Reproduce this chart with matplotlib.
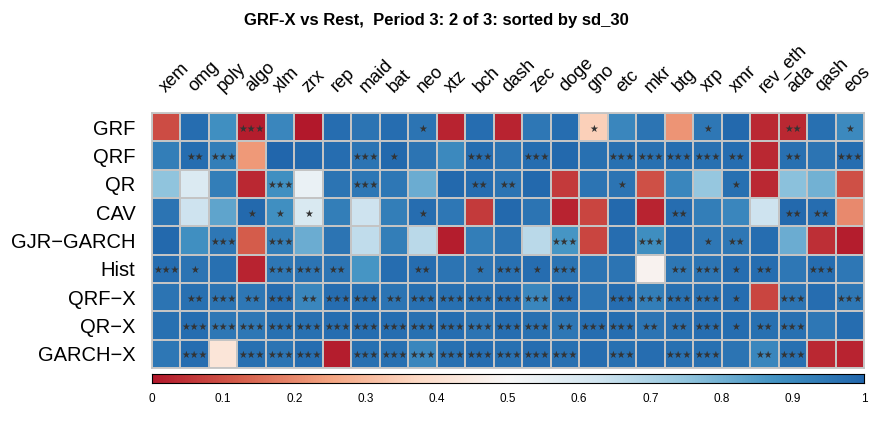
import numpy as np
import matplotlib.pyplot as plt
from matplotlib.colors import LinearSegmentedColormap

plt.rcParams['font.family'] = ['Liberation Sans', 'DejaVu Sans']

models = ['GRF', 'QRF', 'QR', 'CAV', 'GJR\u2212GARCH', 'Hist', 'QRF\u2212X', 'QR\u2212X', 'GARCH\u2212X']
coins = ['xem', 'omg', 'poly', 'algo', 'xlm', 'zrx', 'rep', 'maid', 'bat', 'neo',
         'xtz', 'bch', 'dash', 'zec', 'doge', 'gno', 'etc', 'mkr', 'btg', 'xrp',
         'xmr', 'rev_eth', 'ada', 'qash', 'eos']

# p-values, one list per model row
grf = [0.09, 0.98, 0.885, 0.01, 0.91, 0.00, 0.98, 0.96, 0.98, 0.96, 0.02, 0.98, 0.02,
       0.95, 0.98, 0.35, 0.91, 0.96, 0.22, 0.95, 0.99, 0.03, 0.03, 0.97, 0.90]
qrf = [0.93, 0.98, 0.93, 0.23, 1.00, 0.99, 0.98, 0.96, 0.99, 0.96, 0.90, 0.98, 0.96,
       0.98, 0.99, 0.97, 0.97, 0.97, 0.98, 0.97, 0.98, 0.03, 0.97, 0.96, 0.98]
qr = [0.75, 0.59, 0.93, 0.03, 0.885, 0.54, 0.96, 0.95, 0.95, 0.81, 0.99, 0.98, 0.96,
      0.99, 0.06, 0.96, 0.96, 0.10, 0.91, 0.74, 0.97, 0.03, 0.76, 0.80, 0.10]
cav = [0.96, 0.63, 0.83, 0.99, 0.885, 0.60, 0.93, 0.63, 0.93, 0.98, 0.95, 0.06, 0.99,
       0.96, 0.02, 0.08, 0.99, 0.02, 0.98, 0.93, 0.91, 0.63, 0.99, 0.98, 0.20]
gjr = [0.99, 0.885, 0.95, 0.12, 0.93, 0.81, 0.96, 0.66, 0.93, 0.67, 0.01, 0.93, 0.96,
       0.67, 0.87, 0.08, 0.98, 0.89, 0.98, 0.95, 0.95, 0.98, 0.81, 0.04, 0.01]
hist = [0.98, 0.96, 0.97, 0.02, 0.95, 0.96, 0.96, 0.87, 0.98, 0.98, 0.96, 0.96, 0.97,
        0.98, 0.96, 0.96, 0.96, 0.48, 0.95, 0.96, 0.98, 0.98, 0.95, 0.98, 0.95]
qrfx = [0.96, 0.97, 0.96, 0.95, 0.98, 0.91, 0.98, 0.97, 0.96, 0.97, 0.97, 0.97, 0.98,
        0.91, 0.98, 0.96, 0.98, 0.93, 0.97, 0.97, 0.98, 0.08, 0.96, 0.98, 0.95]
qrx = [0.97, 0.98, 0.95, 0.95, 0.97, 0.97, 0.98, 0.98, 0.98, 0.97, 0.98, 0.96, 0.98,
       0.97, 0.95, 0.98, 0.98, 0.96, 0.97, 0.98, 0.98, 0.97, 0.97, 0.95, 0.98]
garchx = [0.95, 0.98, 0.42, 0.97, 0.96, 0.98, 0.01, 0.97, 0.97, 0.91, 0.97, 0.98, 0.97,
          0.98, 0.97, 0.98, 0.97, 0.98, 0.97, 0.97, 0.96, 0.91, 0.97, 0.03, 0.02]

# significance stars
s_grf = [0, 0, 0, 3, 0, 0, 0, 0, 0, 1, 0, 0, 0, 0, 0, 1, 0, 0, 0, 1, 0, 0, 2, 0, 1]
s_qrf = [0, 2, 3, 0, 0, 0, 0, 3, 1, 0, 0, 3, 0, 3, 0, 0, 3, 3, 3, 3, 2, 0, 2, 0, 3]
s_qr = [0, 0, 0, 0, 3, 0, 0, 3, 0, 0, 0, 2, 2, 0, 0, 0, 1, 0, 0, 0, 1, 0, 0, 0, 0]
s_cav = [0, 0, 0, 1, 1, 1, 0, 0, 0, 1, 0, 0, 0, 0, 0, 0, 0, 0, 2, 0, 0, 0, 2, 2, 0]
s_gjr = [0, 0, 3, 0, 3, 0, 0, 0, 0, 0, 0, 0, 0, 0, 3, 0, 0, 3, 0, 1, 2, 0, 0, 0, 0]
s_hist = [3, 1, 0, 0, 3, 3, 2, 0, 0, 2, 0, 1, 3, 1, 3, 0, 0, 0, 2, 3, 1, 2, 0, 3, 0]
s_qrfx = [0, 2, 3, 2, 3, 2, 3, 3, 2, 3, 3, 3, 3, 3, 2, 0, 3, 3, 3, 3, 1, 0, 3, 0, 3]
s_qrx = [0, 3, 3, 3, 3, 3, 3, 3, 3, 3, 3, 3, 3, 3, 2, 3, 3, 2, 2, 3, 1, 2, 3, 0, 0]
s_garchx = [0, 3, 0, 3, 3, 3, 0, 3, 3, 3, 3, 3, 3, 3, 3, 0, 3, 0, 3, 3, 0, 2, 3, 0, 0]

vals = np.array([grf, qrf, qr, cav, gjr, hist, qrfx, qrx, garchx])
stars = np.array([s_grf, s_qrf, s_qr, s_cav, s_gjr, s_hist, s_qrfx, s_qrx, s_garchx])

cmap = LinearSegmentedColormap.from_list('rdbu9', [
    '#B2182B', '#D6604D', '#F4A582', '#FDDBC7', '#F7F7F7',
    '#D1E5F0', '#92C5DE', '#4393C3', '#2166AC'])

fig = plt.figure(figsize=(8.72, 4.36), dpi=100)
ax = fig.add_axes([152 / 872, 1 - 368 / 436, 712 / 872, 255 / 436])
nr, nc = vals.shape
ax.pcolormesh(np.arange(nc + 1), np.arange(nr + 1), vals, cmap=cmap, vmin=0, vmax=1,
              edgecolors='#c4c4c4', linewidth=1.3)
ax.set_xlim(0, nc)
ax.set_ylim(nr, 0)
for sp in ax.spines.values():
    sp.set_color('#c4c4c4')
    sp.set_linewidth(1.3)

for i in range(nr):
    for j in range(nc):
        if stars[i, j]:
            ax.text(j + 0.5, i + 0.55, '\u2605' * stars[i, j], ha='center', va='center',
                    fontsize=7, color='#333333', family='DejaVu Sans')

ax.set_yticks(np.arange(nr) + 0.5)
ax.set_yticklabels(models, fontsize=14.5)
ax.set_xticks([])
ax.tick_params(axis='y', length=0, pad=12)
for j, c in enumerate(coins):
    ax.text(j + 0.5, -0.72, c, rotation=45, rotation_mode='anchor', ha='left',
            va='baseline', fontsize=13)

cax = fig.add_axes([152 / 872, 1 - 383 / 436, 712 / 872, 9 / 436])
grad = np.linspace(0, 1, 512).reshape(1, -1)
cax.imshow(grad, aspect='auto', cmap=cmap, extent=[0, 1, 0, 1])
cax.set_yticks([])
cax.set_xticks(np.linspace(0, 1, 11))
cax.set_xticklabels(['0', '0.1', '0.2', '0.3', '0.4', '0.5', '0.6', '0.7', '0.8', '0.9', '1'],
                    fontsize=8.5)
cax.tick_params(axis='x', length=0, pad=7)

fig.suptitle('GRF-X vs Rest,  Period 3: 2 of 3: sorted by sd_30', fontsize=12,
             fontweight='bold', y=0.97)
fig.savefig('out.png', dpi=100)
